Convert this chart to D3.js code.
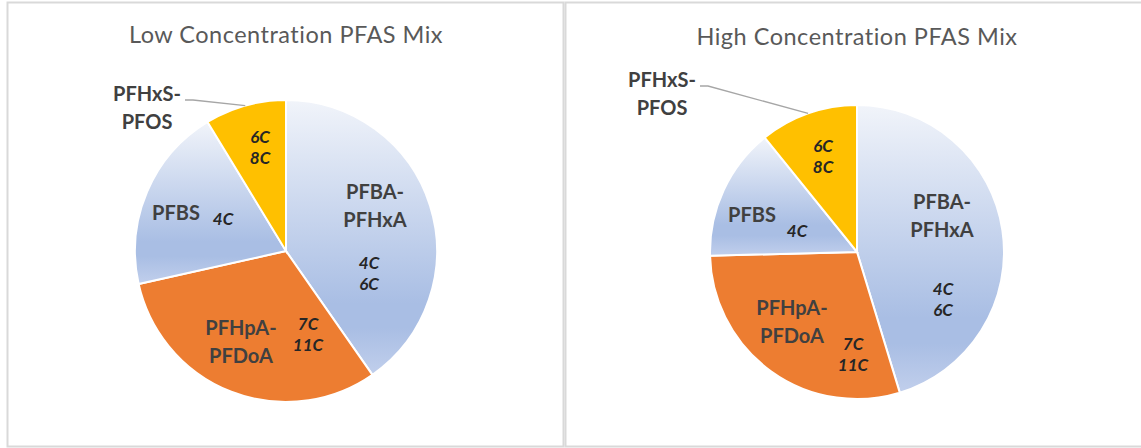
<!DOCTYPE html>
<html>
<head>
<meta charset="utf-8">
<script src="https://cdn.jsdelivr.net/npm/d3@7"></script>
<style>
  body { margin: 0; background: #fff; }
  svg { display: block; }
</style>
</head>
<body>
<svg></svg>
<script>
// data (percent of each mix)
var categories = ["PFBA-PFHxA", "PFHpA-PFDoA", "PFBS", "PFHxS-PFOS"];
var nameLines = [["PFBA-", "PFHxA"], ["PFHpA-", "PFDoA"], ["PFBS"], ["PFHxS-", "PFOS"]];
var carbonLines = [["4C", "6C"], ["7C", "11C"], ["4C"], ["6C", "8C"]];
var lowValues = [40.3, 31.2, 19.8, 8.7];
var highValues = [45.3, 29.3, 14.6, 10.8];
var titles = ["Low Concentration PFAS Mix", "High Concentration PFAS Mix"];

var screen = {width: 1141, height: 448};

// layout of each panel (label offsets are from the pie centre, first baseline)
var panels = [
    {values: lowValues, title: titles[0], frame: [7.5, 2.5, 556, 444],
     cx: 286, cy: 251, r: 151, titleY: 43,
     nameOff: [[89, -52], [-45, 84], [-110, -31], [-139, -150]],
     carbOff: [[83, 18], [22, 79], [-63, -26], [-26, -108]]},
    {values: highValues, title: titles[1], frame: [565.5, 2.5, 600, 444],
     cx: 857, cy: 252, r: 147, titleY: 45,
     nameOff: [[85, -43], [-65, 63], [-105, -30], [-195, -165]],
     carbOff: [[86, 43], [-4, 98], [-60, -15], [-34, -100]]}
];

var colors = ["url(#blueGrad)", "#ed7d31", "url(#blueGrad)", "#ffc000"];

var svg = d3.select("svg")
    .attr("width", screen.width)
    .attr("height", screen.height);

var grad = svg.append("defs").append("linearGradient")
    .attr("id", "blueGrad")
    .attr("x1", 0).attr("y1", 0).attr("x2", 0).attr("y2", 1);
grad.append("stop").attr("offset", 0).attr("stop-color", "#f1f4fa");
grad.append("stop").attr("offset", 0.74).attr("stop-color", "#a9bee4");
grad.append("stop").attr("offset", 0.83).attr("stop-color", "#a9bee4");
grad.append("stop").attr("offset", 1).attr("stop-color", "#c1cfec");

var pie = d3.pie().sort(null).value(function(d){ return d; });

panels.forEach(function(p){
    svg.append("rect")
        .attr("x", p.frame[0]).attr("y", p.frame[1])
        .attr("width", p.frame[2]).attr("height", p.frame[3])
        .attr("fill", "none")
        .attr("stroke", "#d9d9d9")
        .attr("stroke-width", 2);

    svg.append("text")
        .attr("x", p.cx)
        .attr("y", p.titleY)
        .attr("text-anchor", "middle")
        .attr("font-family", "Lato, sans-serif")
        .attr("font-size", 23.5)
        .attr("letter-spacing", 0.5)
        .attr("fill", "#595959")
        .text(p.title);

    var arc = d3.arc().innerRadius(0).outerRadius(p.r);
    var arcs = pie(p.values);

    var g = svg.append("g")
        .attr("transform", "translate(" + p.cx + "," + p.cy + ")");

    g.selectAll("path.slice")
        .data(arcs)
        .enter()
        .append("path")
        .attr("class", "slice")
        .attr("d", arc)
        .attr("fill", function(d, i){ return colors[i]; })
        .attr("stroke", "#fff")
        .attr("stroke-width", 2);

    arcs.forEach(function(d, i){
        // category names
        var t = g.append("text")
            .attr("text-anchor", "middle")
            .attr("font-family", "Lato, sans-serif")
            .attr("font-weight", "bold")
            .attr("font-size", 20)
            .attr("fill", "#404040");
        nameLines[i].forEach(function(line, j){
            t.append("tspan")
                .attr("x", p.nameOff[i][0])
                .attr("y", p.nameOff[i][1] + j * 28)
                .text(line);
        });

        // carbon chain lengths
        var c = g.append("text")
            .attr("text-anchor", "middle")
            .attr("font-family", "Lato, sans-serif")
            .attr("font-weight", "bold")
            .attr("font-style", "italic")
            .attr("font-size", 17)
            .attr("fill", "#262626");
        carbonLines[i].forEach(function(line, j){
            c.append("tspan")
                .attr("x", p.carbOff[i][0])
                .attr("y", p.carbOff[i][1] + j * 21)
                .text(line);
        });
    });

    // leader line for the small outside label
    var last = arcs[3];
    var mid = (last.startAngle + last.endAngle) / 2;
    var end = [p.r * Math.sin(mid), -p.r * Math.cos(mid)];
    var sx = p.nameOff[3][0] + 38;
    var sy = p.nameOff[3][1] - 1;
    g.append("path")
        .attr("d", d3.line()([[sx, sy], [sx + 8, sy], end]))
        .attr("fill", "none")
        .attr("stroke", "#a6a6a6")
        .attr("stroke-width", 1.3);
});
</script>
</body>
</html>
